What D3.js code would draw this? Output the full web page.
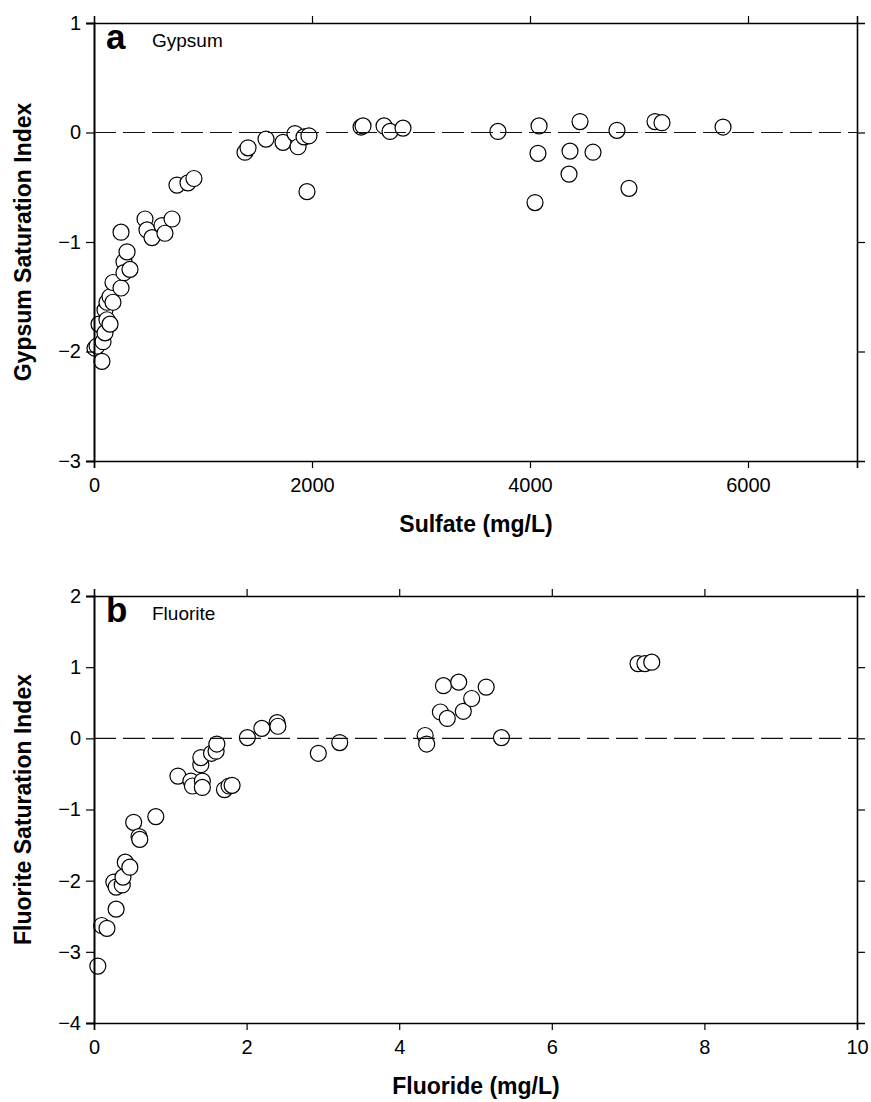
<!DOCTYPE html>
<html><head><meta charset="utf-8">
<script src="https://cdn.jsdelivr.net/npm/d3@7/dist/d3.min.js"></script>
<style>body{margin:0;background:#fff}svg{display:block}text{font-family:"Liberation Sans",Arial,sans-serif}</style>
</head><body><svg id="c" width="871" height="1102"></svg>
<script>
// Panel a: Gypsum
const gypSulfate = [9,28,46,73,83,101,101,119,119,147,147,174,174,248,248,275,275,303,330,468,486,532,624,651,716,761,862,917,1385,1413,1578,1734,1844,1872,1927,1972,1954,2450,2468,2661,2716,2835,3706,4046,4073,4083,4358,4367,4459,4578,4798,4908,5147,5211,5771];
const gypSI = [-1.97,-1.95,-1.75,-2.09,-1.91,-1.83,-1.62,-1.55,-1.71,-1.50,-1.75,-1.37,-1.55,-1.42,-0.91,-1.18,-1.28,-1.09,-1.25,-0.79,-0.89,-0.96,-0.85,-0.92,-0.79,-0.48,-0.46,-0.42,-0.18,-0.14,-0.06,-0.09,-0.01,-0.13,-0.04,-0.03,-0.54,0.05,0.06,0.06,0.01,0.04,0.01,-0.64,-0.19,0.06,-0.38,-0.17,0.10,-0.18,0.02,-0.51,0.10,0.09,0.05];
// Panel b: Fluorite
const fluF = [0.05,0.10,0.17,0.29,0.26,0.29,0.37,0.38,0.41,0.47,0.52,0.59,0.60,0.81,1.10,1.27,1.29,1.42,1.42,1.40,1.40,1.54,1.60,1.61,1.71,1.77,1.81,2.01,2.20,2.40,2.41,2.94,3.22,4.34,4.36,5.34,4.58,4.78,4.54,4.63,4.84,4.95,5.14,7.13,7.22,7.31];
const fluSI = [-3.2,-2.63,-2.67,-2.40,-2.02,-2.09,-2.06,-1.95,-1.74,-1.81,-1.18,-1.38,-1.42,-1.10,-0.53,-0.60,-0.67,-0.60,-0.69,-0.37,-0.27,-0.21,-0.18,-0.08,-0.72,-0.67,-0.66,0.01,0.14,0.22,0.17,-0.21,-0.06,0.04,-0.08,0.01,0.74,0.79,0.37,0.28,0.38,0.56,0.72,1.05,1.05,1.07];

const gypXTicks = [0,2000,4000,6000];
const gypYTicks = [1,0,-1,-2,-3];
const fluXTicks = [0,2,4,6,8,10];
const fluYTicks = [2,1,0,-1,-2,-3,-4];

const svg = d3.select("#c");

function panel(o){
  const g = svg.append("g");
  const x = d3.scaleLinear().domain(o.xd).range([94,857]);
  const y = d3.scaleLinear().domain(o.yd).range([o.bottom,o.top]);
  const innerTicksX = o.xt.filter(v=>v>o.xd[0]&&v<o.xd[1]);
  const innerTicksY = o.yt.filter(v=>v>o.yd[0]&&v<o.yd[1]);
  // points
  g.selectAll("circle").data(o.xs.map((v,i)=>[v,o.ys[i]])).join("circle")
    .attr("cx",d=>x(d[0])).attr("cy",d=>y(d[1])).attr("r",8)
    .attr("fill","#fff").attr("stroke","#000").attr("stroke-width",1.2);
  // dashed zero line
  g.append("line").attr("x1",x(o.xd[0])).attr("x2",x(o.xd[1])).attr("y1",y(0)).attr("y2",y(0))
    .attr("stroke","#111").attr("stroke-width",1.2).attr("stroke-dasharray","22,7");
  // axes
  const left = g.append("g").attr("transform",`translate(${x(o.xd[0])},0)`)
    .call(d3.axisLeft(y).tickValues(o.yt).tickSize(8).tickPadding(5).tickFormat(d3.format("d")));
  const bottom = g.append("g").attr("transform",`translate(0,${y(o.yd[0])})`)
    .call(d3.axisBottom(x).tickValues(o.xt).tickSize(7).tickPadding(10).tickFormat(d3.format("d")));
  const top = g.append("g").attr("transform",`translate(0,${y(o.yd[1])})`)
    .call(d3.axisTop(x).tickValues(innerTicksX).tickSize(7).tickFormat(""));
  const right = g.append("g").attr("transform",`translate(${x(o.xd[1])},0)`)
    .call(d3.axisRight(y).tickValues(innerTicksY).tickSize(8).tickFormat(""));
  [left,bottom,top,right].forEach(a=>{
    a.select(".domain").attr("stroke","#000").attr("stroke-width",1.6);
    a.selectAll(".tick line").attr("stroke","#000").attr("stroke-width",1.2);
    a.selectAll("text").attr("font-size",20).attr("fill","#000").attr("font-family","'Liberation Sans',Arial,sans-serif");
  });
  left.select(".domain").attr("stroke-width",2);
  // panel labels
  g.append("text").attr("x",106).attr("y",o.top+26).attr("font-size",35).attr("font-weight","bold").text(o.letter);
  g.append("text").attr("x",152).attr("y",o.top+24).attr("font-size",19).text(o.name);
  // axis titles
  g.append("text").attr("x",476).attr("y",o.bottom+71).attr("text-anchor","middle")
    .attr("font-size",23).attr("font-weight","bold").text(o.xlabel);
  g.append("text").attr("transform",`translate(31,${(o.top+o.bottom)/2}) rotate(-90)`).attr("text-anchor","middle")
    .attr("font-size",23).attr("font-weight","bold").text(o.ylabel);
}

panel({xd:[0,7000],yd:[-3,1],top:23,bottom:461,xs:gypSulfate,ys:gypSI,xt:gypXTicks,yt:gypYTicks,
  letter:"a",name:"Gypsum",xlabel:"Sulfate (mg/L)",ylabel:"Gypsum Saturation Index"});
panel({xd:[0,10],yd:[-4,2],top:596,bottom:1023,xs:fluF,ys:fluSI,xt:fluXTicks,yt:fluYTicks,
  letter:"b",name:"Fluorite",xlabel:"Fluoride (mg/L)",ylabel:"Fluorite Saturation Index"});
</script></body></html>
